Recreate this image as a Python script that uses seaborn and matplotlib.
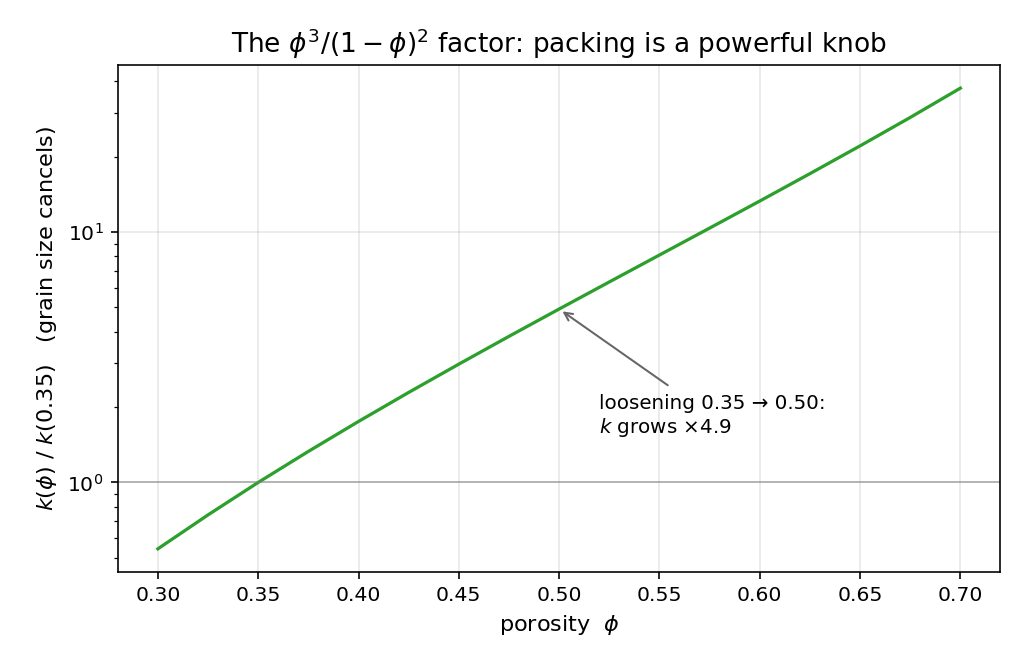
import seaborn as sns
import matplotlib.pyplot as plt
import pandas as pd

# values
porosity = [0.300, 0.325, 0.350, 0.375, 0.400, 0.425, 0.450, 0.475, 0.500,
            0.525, 0.550, 0.575, 0.600, 0.625, 0.650, 0.675, 0.700]
k_ratio = [0.543, 0.742, 1.000, 1.330, 1.752, 2.288, 2.968, 3.832, 4.927,
           6.320, 8.096, 10.37, 13.30, 17.11, 22.09, 28.69, 37.56]

ref_value = 1.0
arrow_phi = 0.50
arrow_k = 4.927


def main():
    df = pd.DataFrame({'phi': porosity, 'k': k_ratio})

    fig, ax = plt.subplots(figsize=(7.0, 4.594), dpi=146.29)
    sns.lineplot(data=df, x='phi', y='k', color='#2ca02c', linewidth=1.6, ax=ax)
    ax.set_yscale('log')
    ax.axhline(ref_value, color='gray', linewidth=0.9, alpha=0.55)
    ax.grid(True, which='major', alpha=0.3)

    ax.annotate('loosening 0.35 → 0.50:\n$k$ grows ×4.9',
                xy=(arrow_phi, arrow_k), xytext=(0.52, 1.57),
                fontsize=9.8,
                arrowprops=dict(arrowstyle='->', color='#666666', lw=1,
                                shrinkA=4, shrinkB=2))

    ax.set_title(r'The $\phi^3/(1-\phi)^2$ factor: packing is a powerful knob',
                 fontsize=13)
    ax.set_xlabel(r'porosity  $\phi$', fontsize=11)
    ax.set_ylabel(r'$k(\phi)$ / $k(0.35)$   (grain size cancels)', fontsize=11)

    fig.subplots_adjust(left=0.115, right=0.977, top=0.903, bottom=0.149)
    fig.savefig('out.png')


if __name__ == "__main__":
    main()
